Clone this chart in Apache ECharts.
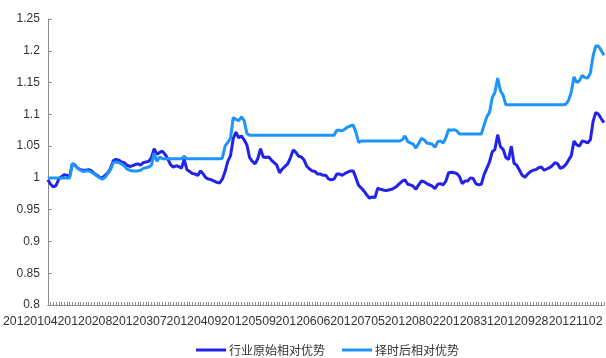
<!DOCTYPE html>
<html>
<head>
<meta charset="utf-8">
<script src="https://cdn.jsdelivr.net/npm/echarts@6/dist/echarts.min.js"></script>
<style>
  html, body { margin: 0; padding: 0; background: #fff; }
  #chart { width: 606px; height: 358px; }
</style>
</head>
<body>
<div id="chart"></div>
<script>
// Trading days of 2012, Jan 4 to Nov 8
const dates = [
  '20120104','20120105','20120106','20120109','20120110','20120111','20120112','20120113','20120116','20120117','20120118','20120119','20120120','20120130','20120131',
  '20120201','20120202','20120203','20120206','20120207','20120208','20120209','20120210','20120213','20120214','20120215','20120216','20120217','20120220','20120221','20120222','20120223','20120224','20120227','20120228','20120229',
  '20120301','20120302','20120305','20120306','20120307','20120308','20120309','20120312','20120313','20120314','20120315','20120316','20120319','20120320','20120321','20120322','20120323','20120326','20120327','20120328','20120329','20120330',
  '20120405','20120406','20120409','20120410','20120411','20120412','20120413','20120416','20120417','20120418','20120419','20120420','20120423','20120424','20120425','20120426','20120427',
  '20120502','20120503','20120504','20120507','20120508','20120509','20120510','20120511','20120514','20120515','20120516','20120517','20120518','20120521','20120522','20120523','20120524','20120525','20120528','20120529','20120530','20120531',
  '20120601','20120604','20120605','20120606','20120607','20120608','20120611','20120612','20120613','20120614','20120615','20120618','20120619','20120620','20120621','20120625','20120626','20120627','20120628','20120629',
  '20120702','20120703','20120704','20120705','20120706','20120709','20120710','20120711','20120712','20120713','20120716','20120717','20120718','20120719','20120720','20120723','20120724','20120725','20120726','20120727','20120730','20120731',
  '20120801','20120802','20120803','20120806','20120807','20120808','20120809','20120810','20120813','20120814','20120815','20120816','20120820','20120821','20120822','20120823','20120824','20120827','20120828','20120829','20120830','20120831',
  '20120903','20120904','20120905','20120906','20120907','20120910','20120911','20120912','20120913','20120914','20120917','20120918','20120919','20120920','20120921','20120924','20120925','20120926','20120927','20120928',
  '20121008','20121009','20121010','20121011','20121012','20121015','20121016','20121017','20121018','20121019','20121022','20121023','20121024','20121025','20121026','20121029','20121030','20121031',
  '20121101','20121102','20121105','20121106','20121107','20121108'
];

// 行业原始相对优势
const rawAdvantage = [
  0.997,0.990,0.986,0.988,0.998,1.002,1.005,1.004,1.003,1.022,
  1.020,1.015,1.013,1.012,1.012,1.013,1.011,1.007,1.004,1.001,
  1.000,1.004,1.008,1.015,1.027,1.029,1.028,1.025,1.024,1.020,
  1.018,1.019,1.021,1.022,1.020,1.024,1.025,1.026,1.032,1.046,
  1.037,1.040,1.042,1.037,1.030,1.021,1.017,1.019,1.018,1.015,
  1.029,1.013,1.010,1.007,1.006,1.004,1.011,1.006,1.000,0.998,
  0.997,0.995,0.993,0.992,0.998,1.010,1.026,1.035,1.062,1.072,
  1.063,1.066,1.060,1.052,1.032,1.026,1.022,1.030,1.046,1.033,
  1.032,1.033,1.028,1.024,1.020,1.008,1.014,1.018,1.022,1.032,
  1.044,1.040,1.034,1.033,1.028,1.018,1.014,1.011,1.010,1.006,
  1.006,1.004,1.004,0.998,0.997,0.998,1.006,1.006,1.004,1.007,
  1.009,1.011,1.011,1.000,0.988,0.984,0.979,0.973,0.968,0.970,
  0.969,0.984,0.982,0.981,0.980,0.981,0.982,0.984,0.987,0.991,
  0.995,0.997,0.990,0.989,0.987,0.982,0.989,0.995,0.994,0.991,
  0.989,0.987,0.983,0.990,0.991,0.989,0.995,1.008,1.009,1.008,
  1.007,1.002,0.991,0.995,0.995,1.000,0.999,0.991,0.989,0.990,
  1.005,1.015,1.025,1.041,1.045,1.068,1.049,1.045,1.032,1.029,
  1.050,1.023,1.020,1.012,1.004,1.001,1.006,1.010,1.012,1.013,
  1.016,1.017,1.012,1.014,1.016,1.019,1.024,1.022,1.015,1.017,
  1.021,1.028,1.035,1.058,1.052,1.050,1.058,1.057,1.055,1.060,
  1.089,1.103,1.100,1.093,1.087
];

// 择时后相对优势
const timedAdvantage = [
  1.000,1.000,1.000,1.000,1.000,1.000,1.000,1.000,1.000,1.023,
  1.019,1.015,1.012,1.010,1.011,1.011,1.009,1.006,1.003,1.000,
  0.998,1.001,1.007,1.013,1.024,1.025,1.024,1.022,1.019,1.014,
  1.012,1.011,1.011,1.011,1.012,1.015,1.016,1.017,1.020,1.039,
  1.026,1.033,1.030,1.030,1.030,1.030,1.030,1.030,1.030,1.030,
  1.034,1.030,1.030,1.030,1.030,1.030,1.030,1.030,1.030,1.030,
  1.030,1.030,1.030,1.030,1.031,1.050,1.056,1.062,1.095,1.092,
  1.090,1.096,1.090,1.070,1.067,1.067,1.067,1.067,1.067,1.067,
  1.067,1.067,1.067,1.067,1.067,1.067,1.067,1.067,1.067,1.067,
  1.067,1.067,1.067,1.067,1.067,1.067,1.067,1.067,1.067,1.067,
  1.067,1.067,1.067,1.067,1.067,1.067,1.075,1.075,1.074,1.077,
  1.080,1.082,1.083,1.072,1.056,1.058,1.058,1.058,1.058,1.058,
  1.058,1.058,1.058,1.058,1.058,1.058,1.058,1.058,1.058,1.058,
  1.060,1.066,1.057,1.055,1.053,1.047,1.054,1.062,1.060,1.055,
  1.054,1.053,1.048,1.057,1.058,1.055,1.063,1.076,1.075,1.076,
  1.074,1.069,1.069,1.069,1.069,1.069,1.069,1.069,1.069,1.069,
  1.083,1.096,1.103,1.126,1.135,1.157,1.137,1.130,1.115,1.115,
  1.115,1.115,1.115,1.115,1.115,1.115,1.115,1.115,1.115,1.115,
  1.115,1.115,1.115,1.115,1.115,1.115,1.115,1.115,1.115,1.115,
  1.116,1.122,1.135,1.159,1.150,1.153,1.161,1.158,1.157,1.165,
  1.192,1.208,1.207,1.200,1.193
];

const seriesNames = ['行业原始相对优势', '择时后相对优势'];
const seriesColors = ['#2323E8', '#1E93FA'];

const chart = echarts.init(document.getElementById('chart'), null, { renderer: 'canvas' });

const axisGray = '#8C8C8C';
const textColor = '#333333';
const fontFamily = '"Liberation Sans", Arial, "Noto Sans CJK SC", sans-serif';

chart.setOption({
  animation: false,
  backgroundColor: '#ffffff',
  grid: { left: 46, right: 2, top: 19, bottom: 53, containLabel: false },
  legend: {
    left: 191,
    top: 339,
    itemWidth: 30,
    itemHeight: 3,
    itemGap: 17,
    icon: 'rect',
    textStyle: { fontSize: 12, color: textColor, fontFamily: '"Noto Sans CJK SC", sans-serif', padding: [0, 0, 0, -2] },
    data: seriesNames
  },
  xAxis: {
    type: 'category',
    data: dates,
    boundaryGap: false,
    axisLine: { lineStyle: { color: axisGray, width: 1 } },
    axisTick: { show: true, inside: true, length: 3, interval: 0, lineStyle: { color: axisGray } },
    axisLabel: {
      interval: 19,
      margin: 10,
      color: textColor,
      fontSize: 12.3,
      fontFamily: fontFamily,
      formatter: v => '{d|' + v + '}',
      rich: { d: { padding: [0, 35, 0, 0], fontSize: 12.3, color: textColor, fontFamily: fontFamily } }
    },
    splitLine: { show: false }
  },
  yAxis: {
    type: 'value',
    min: 0.8,
    max: 1.25,
    interval: 0.05,
    axisLine: { show: true, lineStyle: { color: axisGray, width: 1 } },
    axisTick: { show: true, inside: true, length: 4, lineStyle: { color: axisGray } },
    axisLabel: {
      margin: 8,
      color: textColor,
      fontSize: 12,
      fontFamily: fontFamily,
      formatter: v => String(Math.round(v * 100) / 100)
    },
    splitLine: { show: false }
  },
  series: [
    {
      name: seriesNames[0],
      type: 'line',
      data: rawAdvantage,
      symbol: 'none',
      smooth: false,
      color: seriesColors[0],
      lineStyle: { width: 3, color: seriesColors[0] }
    },
    {
      name: seriesNames[1],
      type: 'line',
      data: timedAdvantage,
      symbol: 'none',
      smooth: false,
      color: seriesColors[1],
      lineStyle: { width: 3, color: seriesColors[1] }
    }
  ]
});
</script>
</body>
</html>
